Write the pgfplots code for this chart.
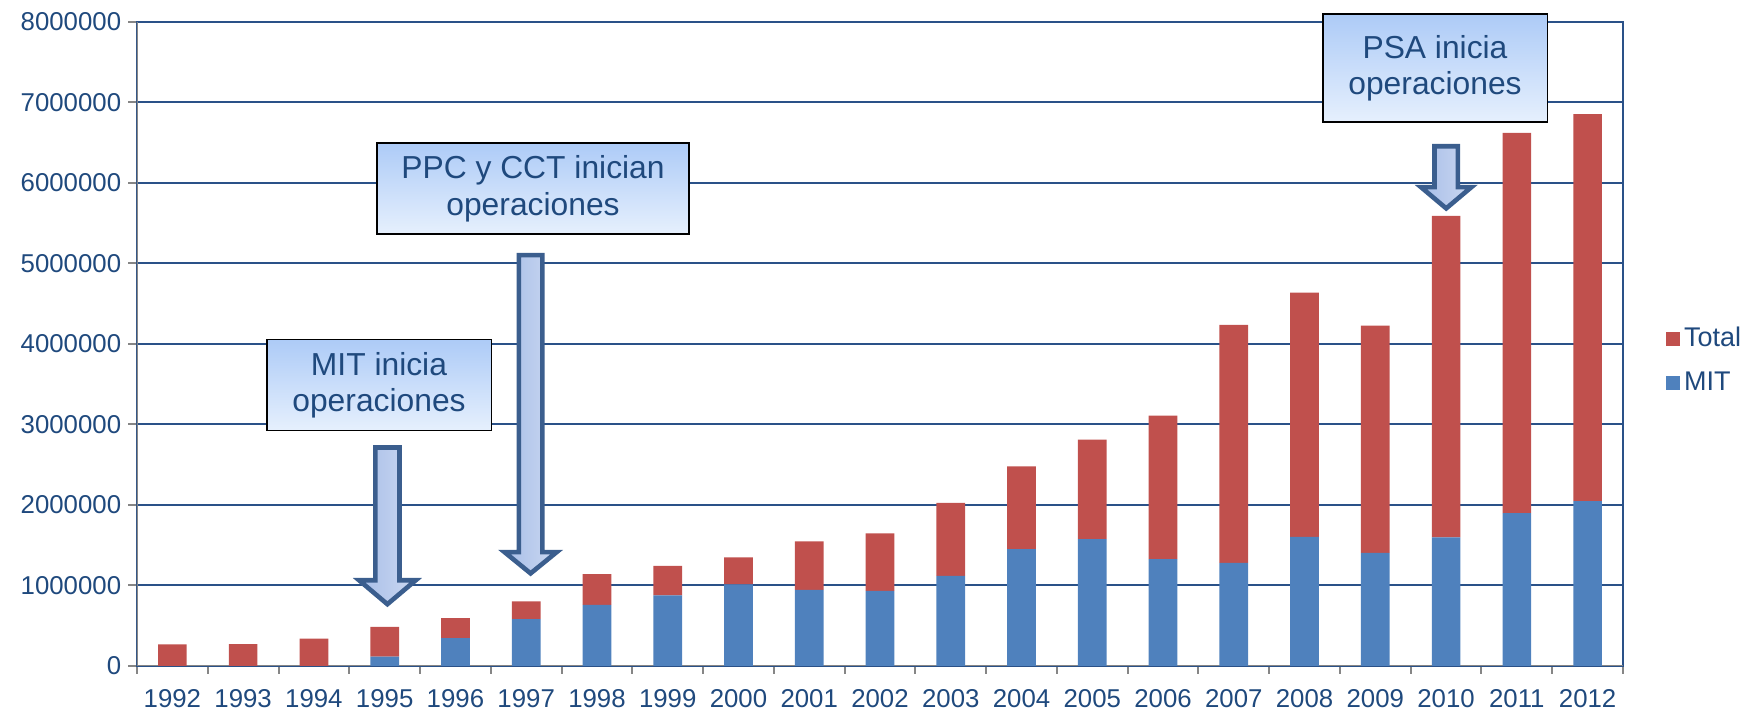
\documentclass[border=0pt]{standalone}
\usepackage{pgfplots}
\pgfplotsset{compat=1.18}
\usepackage{fontspec}
\setmainfont{Liberation Sans}
\definecolor{txtblue}{HTML}{1F497D}
\definecolor{gridblue}{HTML}{2A5188}
\definecolor{mitblue}{HTML}{4F81BD}
\definecolor{totred}{HTML}{C0504D}
\definecolor{axgray}{HTML}{868686}
\definecolor{arrowline}{HTML}{3B5E8E}
\definecolor{boxtop}{HTML}{ADCBF7}
\definecolor{boxbot}{HTML}{E6F0FD}
\definecolor{arrl}{HTML}{A8BEE8}
\definecolor{arrr}{HTML}{CBD8F1}
\begin{document}
\begin{tikzpicture}
\path[use as bounding box] (-68.5pt,-22.5pt) rectangle (805pt,332.9pt);
\begin{axis}[
  scale only axis, width=743pt, height=322pt,
  at={(0pt,0pt)}, anchor=south west,
  ybar stacked, bar width=14.35pt,
  xmin=-0.5, xmax=20.5, ymin=0, ymax=8000000,
  xtick={0,1,2,3,4,5,6,7,8,9,10,11,12,13,14,15,16,17,18,19,20},
  xticklabels={1992,1993,1994,1995,1996,1997,1998,1999,2000,2001,2002,2003,2004,2005,2006,2007,2008,2009,2010,2011,2012},
  minor xtick={-0.5,0.5,1.5,2.5,3.5,4.5,5.5,6.5,7.5,8.5,9.5,10.5,11.5,12.5,13.5,14.5,15.5,16.5,17.5,18.5,19.5,20.5},
  ytick={0,1000000,2000000,3000000,4000000,5000000,6000000,7000000,8000000},
  yticklabels={0,1000000,2000000,3000000,4000000,5000000,6000000,7000000,8000000},
  scaled y ticks=false,
  tick pos=left, tick align=outside,
  major x tick style={draw=none},
  minor x tick style={axgray, line width=1pt},
  y tick style={axgray, line width=1pt},
  minor tick length=3.9pt, major tick length=4.4pt,
  ymajorgrids, major grid style={gridblue, line width=0.9pt},
  axis line style={gridblue, line width=0.9pt},
  ticklabel style={font=\fontsize{12.9}{14}\selectfont, text=txtblue},
  xticklabel style={yshift=-4pt},
  reverse legend,
  legend cell align=left,
  legend style={draw=none, fill=none, at={(axis description cs:1.0287,0.4724)}, anchor=west,
    inner sep=0pt, font=\fontsize{13.5}{15}\selectfont, text=txtblue,
    nodes={inner sep=0pt, text height=9.7pt, text depth=3pt}, row sep=9.55pt,
    /tikz/every odd column/.append style={column sep=2pt}},
]
\addplot[fill=mitblue, draw=none,
  legend image code/.code={\fill[mitblue] (0pt,-3.3pt) rectangle (7pt,3.7pt);}]
  coordinates {(0,0) (1,0) (2,0) (3,113000) (4,344000) (5,580000) (6,756000) (7,875000) (8,1010000) (9,942000) (10,930000) (11,1117000) (12,1450000) (13,1574000) (14,1325000) (15,1280000) (16,1602000) (17,1404000) (18,1596000) (19,1895000) (20,2047000)};
\addlegendentry{MIT}
\addplot[fill=totred, draw=none,
  legend image code/.code={\fill[totred] (0pt,-3.3pt) rectangle (7pt,3.7pt);}]
  coordinates {(0,265000) (1,270000) (2,338000) (3,372000) (4,248000) (5,220000) (6,383000) (7,365000) (8,338000) (9,603000) (10,716000) (11,908000) (12,1026000) (13,1236000) (14,1783000) (15,2955000) (16,3034000) (17,2821000) (18,3993000) (19,4725000) (20,4806000)};
\addlegendentry{Total}
\draw[axgray, line width=1pt] (rel axis cs:0,1) -- (rel axis cs:0,0) -- (rel axis cs:1,0);
\end{axis}
% annotations
\tikzset{abox/.style={draw=black, line width=0.8pt, top color=boxtop, bottom color=boxbot,
  inner sep=0pt, align=center, text=txtblue, font=\fontsize{15.9}{18.2}\selectfont}}
\tikzset{barrow/.style={draw=arrowline, line width=2.3pt, left color=arrl, right color=arrr, line join=miter}}
\node[abox, minimum width=112.3pt, minimum height=45.6pt] at (121.0pt,140.4pt) {MIT inicia\\operaciones};
\node[abox, minimum width=156pt, minimum height=45.6pt] at (198pt,238.6pt) {PPC y CCT inician\\operaciones};
\node[abox, minimum width=112.3pt, minimum height=54pt] at (649pt,298.8pt) {PSA inicia\\operaciones};
\draw[barrow] (119.2pt,109.15pt) -- (119.2pt,42.75pt) -- (111.05pt,42.75pt) -- (125.2pt,30.8pt) -- (139.35pt,42.75pt) -- (131.25pt,42.75pt) -- (131.25pt,109.15pt) -- cycle;
\draw[barrow] (190.95pt,205.3pt) -- (190.95pt,56.8pt) -- (183.8pt,56.8pt) -- (196.8pt,46.2pt) -- (209.8pt,56.8pt) -- (202.65pt,56.8pt) -- (202.65pt,205.3pt) -- cycle;
\draw[barrow] (648.75pt,259.75pt) -- (648.75pt,239.35pt) -- (641.95pt,239.35pt) -- (654.6pt,228.7pt) -- (667.25pt,239.35pt) -- (660.45pt,239.35pt) -- (660.45pt,259.75pt) -- cycle;
\end{tikzpicture}
\end{document}
